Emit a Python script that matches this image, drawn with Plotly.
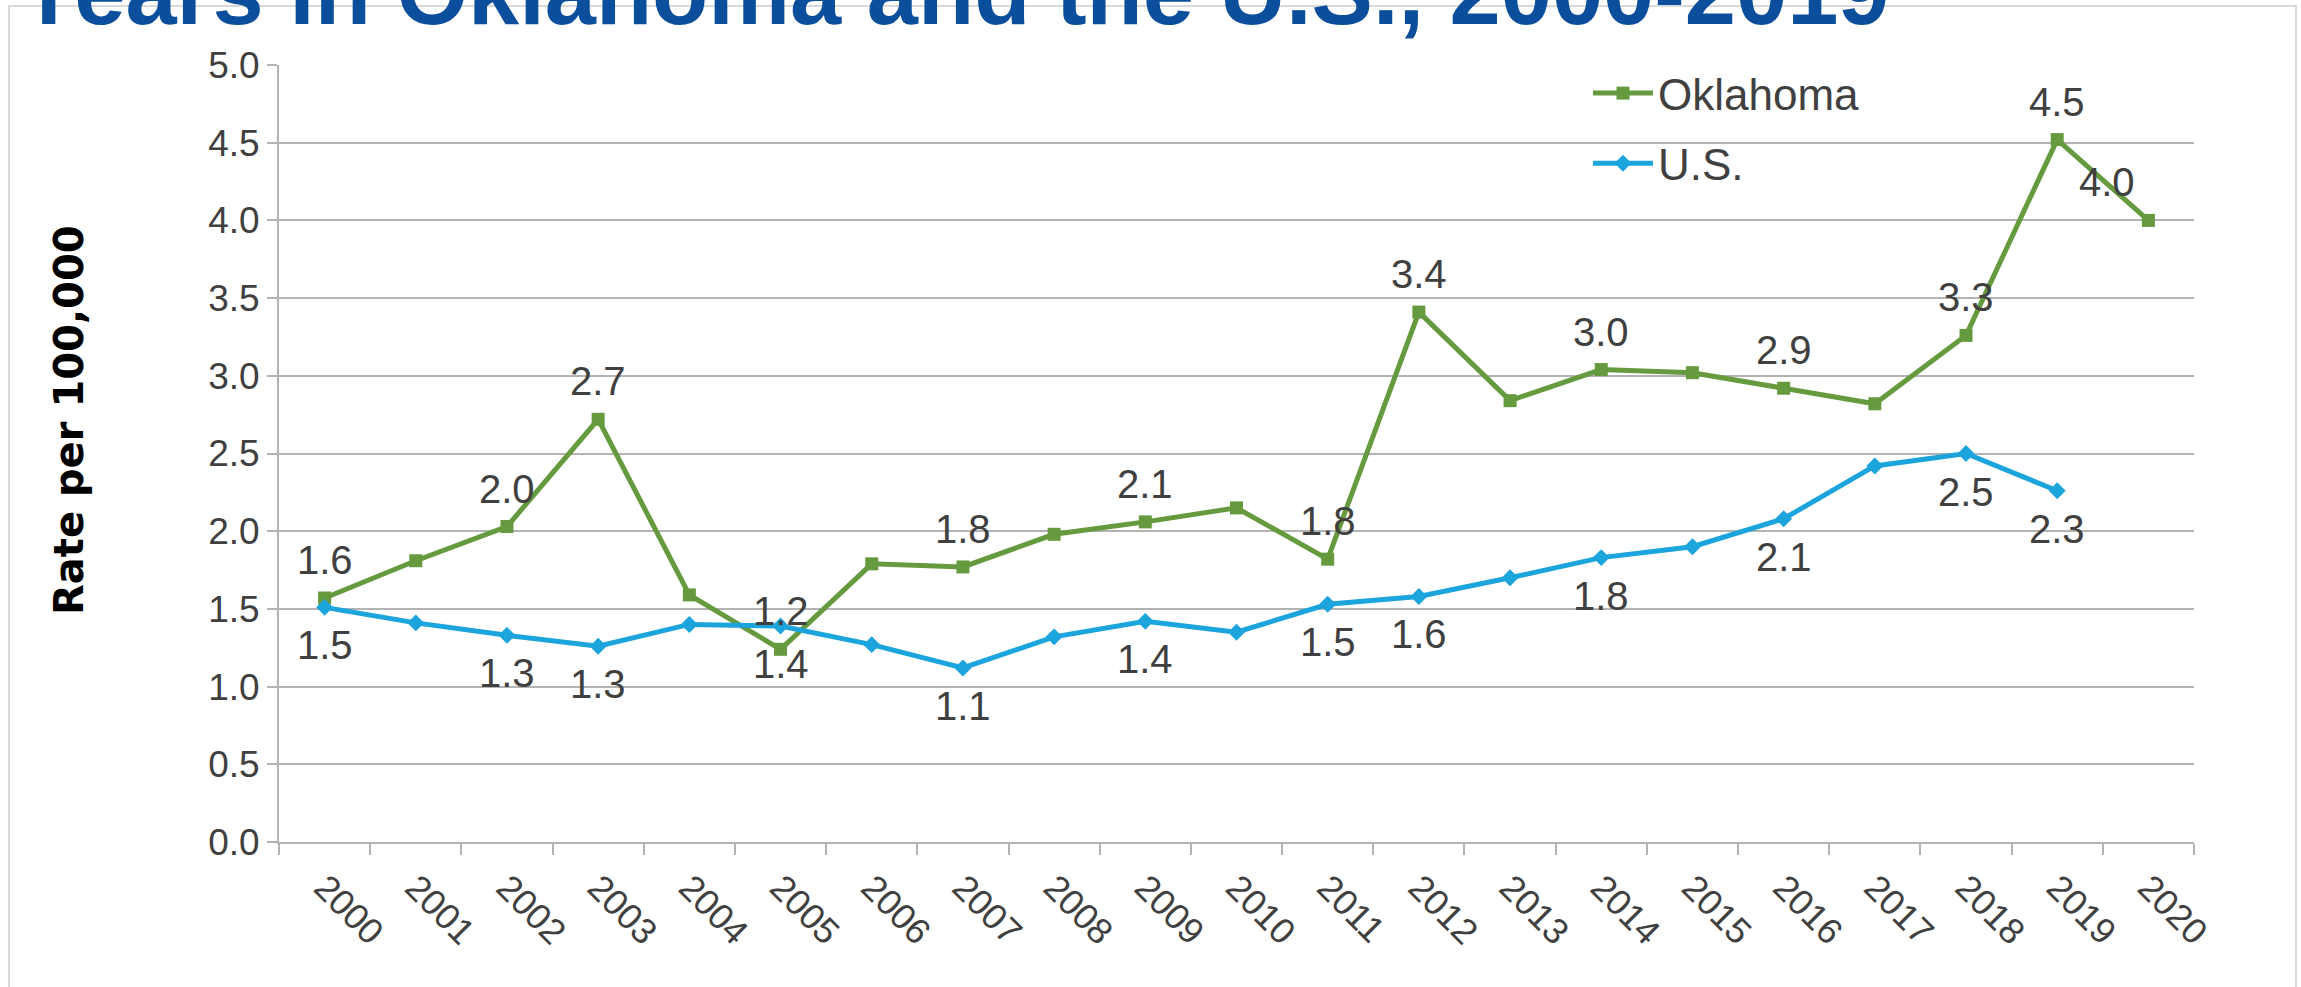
import plotly.graph_objects as go

years = [str(y) for y in range(2000, 2021)]
oklahoma = [1.57, 1.81, 2.03, 2.72, 1.59, 1.24, 1.79, 1.77, 1.98, 2.06, 2.15,
            1.82, 3.41, 2.84, 3.04, 3.02, 2.92, 2.82, 3.26, 4.52, 4.00]
us = [1.51, 1.41, 1.33, 1.26, 1.40, 1.39, 1.27, 1.12, 1.32, 1.42, 1.35,
      1.53, 1.58, 1.70, 1.83, 1.90, 2.08, 2.42, 2.50, 2.26]
ok_label_years = ["2000", "2002", "2003", "2005", "2007", "2009", "2011", "2012",
                  "2014", "2016", "2018", "2019", "2020"]
us_label_years = ["2000", "2002", "2003", "2005", "2007", "2009", "2011", "2012",
                  "2014", "2016", "2018", "2019"]
y_ticks = [0.0, 0.5, 1.0, 1.5, 2.0, 2.5, 3.0, 3.5, 4.0, 4.5, 5.0]

GREEN = "#659A3E"
BLUE = "#1CA4DD"
GRAY_TXT = "#404040"
GRID = "#B3B3B3"

W, H = 2301, 987
L, R, T, B = 279, 107, 65, 145
PW, PH = W - L - R, H - T - B

def px_x(p):
    return (p - L) / PW

def px_y(p):
    return (H - B - p) / PH

fig = go.Figure()
fig.add_trace(go.Scatter(
    x=years, y=oklahoma, name="Oklahoma", mode="lines+markers",
    legendgroup="ok",
    line=dict(color=GREEN, width=5),
    marker=dict(symbol="square", size=13, color=GREEN),
))
fig.add_trace(go.Scatter(
    x=years[:len(us)], y=us, name="U.S.", mode="lines+markers",
    legendgroup="us",
    line=dict(color=BLUE, width=5),
    marker=dict(symbol="diamond", size=13, color=BLUE),
))

annotations = []
label_font = dict(family="Liberation Sans, Arial", size=40, color=GRAY_TXT)
for i, (yr, v) in enumerate(zip(years, oklahoma)):
    if yr in ok_label_years:
        annotations.append(dict(
            x=i, y=v, xref="x", yref="y", text=f"{v:.1f}", showarrow=False,
            xanchor="center", yanchor="middle", yshift=38,
            xshift=-41 if i == len(years) - 1 else 0, font=label_font))
for i, (yr, v) in enumerate(zip(years, us)):
    if yr in us_label_years:
        annotations.append(dict(
            x=i, y=v, xref="x", yref="y", text=f"{v:.1f}", showarrow=False,
            xanchor="center", yanchor="middle", yshift=-38, font=label_font))

# title line (partially cut off at the top, as in the reference)
annotations.append(dict(
    x=px_x(16), y=1 + (T + 8) / PH, xref="paper", yref="paper",
    xanchor="left", yanchor="middle", showarrow=False,
    text="<b>Years in Oklahoma and the U.S., 2000-2019</b>",
    font=dict(family="Liberation Sans, Arial", size=92, color="#0B4F9C")))
# y axis title
annotations.append(dict(
    x=px_x(69), y=px_y(420), xref="paper", yref="paper",
    xanchor="center", yanchor="middle", showarrow=False, textangle=-90,
    text="<b>Rate per 100,000</b>",
    font=dict(family="DejaVu Sans", size=40, color="#000000")))

fig.update_layout(
    width=W, height=H,
    margin=dict(l=L, r=R, t=T, b=B, pad=0),
    paper_bgcolor="white", plot_bgcolor="white",
    showlegend=True,
    legend=dict(x=px_x(1588), y=px_y(58), xanchor="left", yanchor="top",
                bgcolor="rgba(0,0,0,0)",
                font=dict(family="Liberation Sans, Arial", size=44, color=GRAY_TXT),
                itemwidth=60, tracegroupgap=10),
    annotations=annotations,
    shapes=[dict(type="rect", xref="paper", yref="paper", layer="below",
                 x0=px_x(9), x1=px_x(2296), y0=px_y(1010), y1=px_y(6),
                 line=dict(color="#D9D9D9", width=2), fillcolor="rgba(0,0,0,0)")],
)
fig.update_xaxes(
    type="category", categoryorder="array", categoryarray=years,
    range=[-0.5, len(years) - 0.5], tickson="boundaries",
    showgrid=False, showline=True, linecolor=GRID, linewidth=2,
    ticks="outside", ticklen=11, tickcolor=GRID, tickwidth=2,
    ticklabelstandoff=8,
    tickangle=45, tickfont=dict(family="Liberation Sans, Arial", size=36, color=GRAY_TXT),
    zeroline=False,
)
fig.update_yaxes(
    range=[0, 5], tickmode="array", tickvals=y_ticks,
    ticktext=[f"{t:.1f}" for t in y_ticks],
    showgrid=True, gridcolor=GRID, gridwidth=2,
    showline=True, linecolor=GRID, linewidth=2,
    ticks="outside", ticklen=10, tickcolor=GRID, tickwidth=2,
    tickfont=dict(family="Liberation Sans, Arial", size=37, color=GRAY_TXT),
    zeroline=False,
)

fig.write_html("out.html", config={"displayModeBar": False},
               post_script="document.body.style.margin='0';document.body.style.overflow='hidden';")
